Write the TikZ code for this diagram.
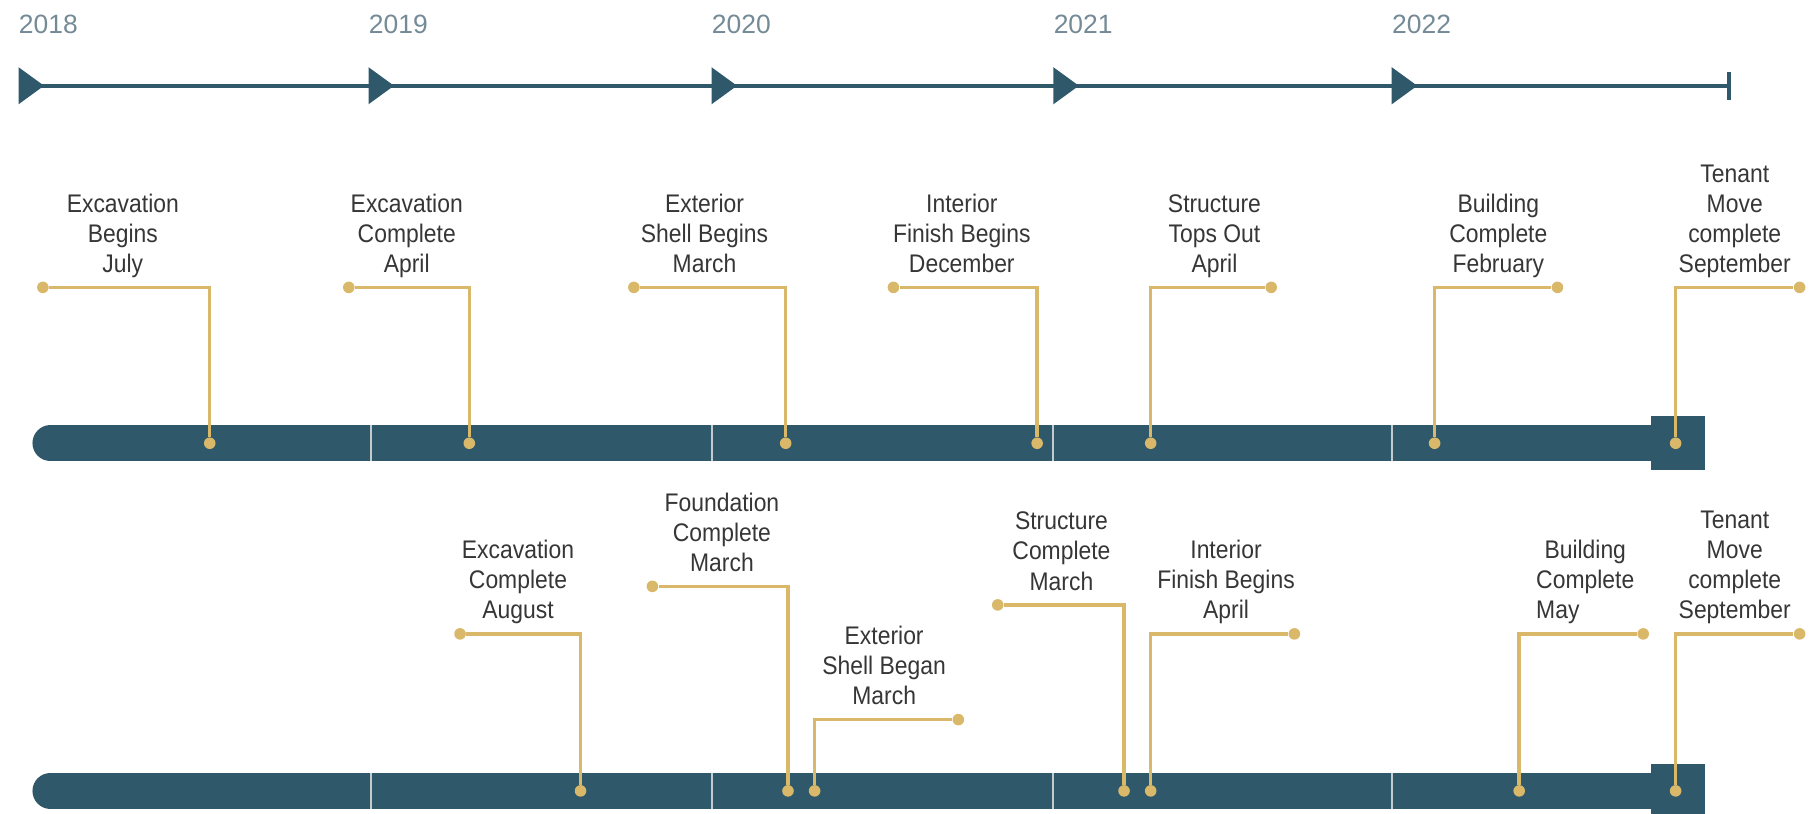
\documentclass[tikz,border=0pt]{standalone}
\usepackage{fontspec}
\setmainfont{Liberation Sans}
\newfontfamily\labelfont[FakeStretch=0.9]{Liberation Sans}
\usepackage{tikz}
\usetikzlibrary{positioning,calc}

\definecolor{barteal}{HTML}{2F586B}
\definecolor{gold}{HTML}{D9B86A}
\definecolor{yeargray}{HTML}{748A96}
\definecolor{labelgray}{HTML}{363636}
\definecolor{divgray}{HTML}{C3CBCF}

\tikzset{
	yearlabel/.style={anchor=base west, inner sep=0pt, text=yeargray, font=\fontsize{13}{13}\selectfont},
	eventlabel/.style={anchor=south, inner sep=0pt, text depth=0pt, align=center, text=labelgray, font=\labelfont\fontsize{12.5}{14.8}\selectfont},
	golddot/.style={circle, fill=gold, inner sep=0pt, minimum size=0.2cm},
	stem/.style={draw=gold, line width=0.06cm},
	timebar/.style={draw=barteal, line width=0.62cm, line cap=round},
	divider/.style={draw=divgray, line width=0.035cm},
	axis/.style={draw=barteal, line width=0.07cm}
}

\begin{document}
\begin{tikzpicture}[x=0.02cm, y=-0.02cm]
	\useasboundingbox (0,0) rectangle (1568,702);

	% year axis
	\node [yearlabel] (y18) at (16,29) {2018};
	\node [yearlabel] (y19) at (318,29) {2019};
	\node [yearlabel] (y20) at (614,29) {2020};
	\node [yearlabel] (y21) at (909,29) {2021};
	\node [yearlabel] (y22) at (1201,29) {2022};

	\coordinate (t18) at (16,74);
	\coordinate (t19) at (318,74);
	\coordinate (t20) at (614,74);
	\coordinate (t21) at (909,74);
	\coordinate (t22) at (1201,74);
	\coordinate (tend) at (1492,74);

	\draw [axis] (t18) -- (tend);
	\draw [axis] ($(tend)+(0,-12)$) -- ($(tend)+(0,12)$);
	\fill [barteal] (t18) ++(0,-16) -- ++(22,16) -- ++(-22,16) -- cycle;
	\fill [barteal] (t19) ++(0,-16) -- ++(22,16) -- ++(-22,16) -- cycle;
	\fill [barteal] (t20) ++(0,-16) -- ++(22,16) -- ++(-22,16) -- cycle;
	\fill [barteal] (t21) ++(0,-16) -- ++(22,16) -- ++(-22,16) -- cycle;
	\fill [barteal] (t22) ++(0,-16) -- ++(22,16) -- ++(-22,16) -- cycle;

	% bars
	\draw [timebar] (43.5,382.5) -- (1425,382.5);
	\fill [barteal] (1425,359) rectangle (1471,406);
	\draw [timebar] (43.5,682.5) -- (1425,682.5);
	\fill [barteal] (1425,659) rectangle (1471,706);

	\draw [divider] (320,367) -- (320,398);
	\draw [divider] (614,367) -- (614,398);
	\draw [divider] (909,367) -- (909,398);
	\draw [divider] (1201,367) -- (1201,398);
	\draw [divider] (320,667) -- (320,698);
	\draw [divider] (614,667) -- (614,698);
	\draw [divider] (909,667) -- (909,698);
	\draw [divider] (1201,667) -- (1201,698);

	% planned
	\node [golddot] (pb1) at (181,382.5) {};
	\node [golddot] (pe1) at (37,248) {};
	\node [eventlabel] (pl1) at (106,235.5) {Excavation\\Begins\\July};

	\node [golddot] (pb2) at (405,382.5) {};
	\node [golddot] (pe2) at (301,248) {};
	\node [eventlabel] (pl2) at (351,235.5) {Excavation\\Complete\\April};

	\node [golddot] (pb3) at (678,382.5) {};
	\node [golddot] (pe3) at (547,248) {};
	\node [eventlabel] (pl3) at (608,235.5) {Exterior\\Shell Begins\\March};

	\node [golddot] (pb4) at (895,382.5) {};
	\node [golddot] (pe4) at (771,248) {};
	\node [eventlabel] (pl4) at (830,235.5) {Interior\\Finish Begins\\December};

	\node [golddot] (pb5) at (993,382.5) {};
	\node [golddot] (pe5) at (1097,248) {};
	\node [eventlabel] (pl5) at (1048,235.5) {Structure\\Tops Out\\April};

	\node [golddot] (pb6) at (1238,382.5) {};
	\node [golddot] (pe6) at (1344,248) {};
	\node [eventlabel] (pl6) at (1293,235.5) {Building\\Complete\\February};

	\node [golddot] (pb7) at (1446,382.5) {};
	\node [golddot] (pe7) at (1553,248) {};
	\node [eventlabel] (pl7) at (1497,235.5) {Tenant\\Move\\complete\\September};

	\draw [stem] (pb1) |- (pe1);
	\draw [stem] (pb2) |- (pe2);
	\draw [stem] (pb3) |- (pe3);
	\draw [stem] (pb4) |- (pe4);
	\draw [stem] (pb5) |- (pe5);
	\draw [stem] (pb6) |- (pe6);
	\draw [stem] (pb7) |- (pe7);

	% actual
	\node [golddot] (ab1) at (501,682.5) {};
	\node [golddot] (ae1) at (397,547) {};
	\node [eventlabel] (al1) at (447,534.5) {Excavation\\Complete\\August};

	\node [golddot] (ab2) at (680,682.5) {};
	\node [golddot] (ae2) at (563,506) {};
	\node [eventlabel] (al2) at (623,493.5) {Foundation\\Complete\\March};

	\node [golddot] (ab3) at (703,682.5) {};
	\node [golddot] (ae3) at (827,621) {};
	\node [eventlabel] (al3) at (763,608.5) {Exterior\\Shell Began\\March};

	\node [golddot] (ab4) at (970,682.5) {};
	\node [golddot] (ae4) at (861,522) {};
	\node [eventlabel] (al4) at (916,509.5) {Structure\\Complete\\March};

	\node [golddot] (ab5) at (993,682.5) {};
	\node [golddot] (ae5) at (1117,547) {};
	\node [eventlabel] (al5) at (1058,534.5) {Interior\\Finish Begins\\April};

	\node [golddot] (ab6) at (1311,682.5) {};
	\node [golddot] (ae6) at (1418,547) {};
	\node [eventlabel] (al6) at (1368,534.5) {Building\\Complete\\\rlap{May}\phantom{Complete}};

	\node [golddot] (ab7) at (1446,682.5) {};
	\node [golddot] (ae7) at (1553,547) {};
	\node [eventlabel] (al7) at (1497,534.5) {Tenant\\Move\\complete\\September};

	\draw [stem] (ab1) |- (ae1);
	\draw [stem] (ab2) |- (ae2);
	\draw [stem] (ab3) |- (ae3);
	\draw [stem] (ab4) |- (ae4);
	\draw [stem] (ab5) |- (ae5);
	\draw [stem] (ab6) |- (ae6);
	\draw [stem] (ab7) |- (ae7);
\end{tikzpicture}
\end{document}
